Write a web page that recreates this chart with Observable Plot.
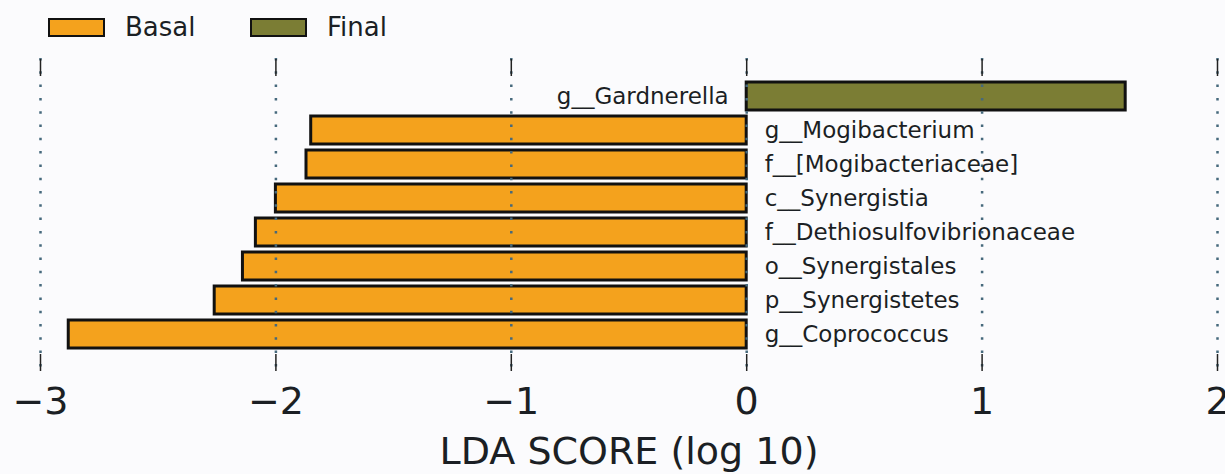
<!DOCTYPE html>
<html>
<head>
<meta charset="utf-8">
<script src="https://cdn.jsdelivr.net/npm/d3@7"></script>
<script src="https://cdn.jsdelivr.net/npm/@observablehq/plot@0.6"></script>
<style>
  html, body { margin: 0; padding: 0; background: #fbfbfd; overflow: hidden; }
  body { width: 1225px; height: 474px; font-family: "DejaVu Sans", sans-serif; }
  #legend { height: 50px; position: relative; }
  .item { position: absolute; top: 17px; display: flex; align-items: center; height: 20px; }
  .sw { width: 53px; height: 15px; border: 2.5px solid #111; }
  .lab { margin-left: 20px; font-size: 26px; color: #1b1f24; line-height: 20px; }
</style>
</head>
<body>
<div id="legend"></div>
<div id="chart"></div>
<script>
// ---- data ----
const taxa = [
  "g__Gardnerella",
  "g__Mogibacterium",
  "f__[Mogibacteriaceae]",
  "c__Synergistia",
  "f__Dethiosulfovibrionaceae",
  "o__Synergistales",
  "p__Synergistetes",
  "g__Coprococcus"
];
const ldaScores = [1.61, -1.85, -1.87, -2.00, -2.085, -2.14, -2.26, -2.88];
const taxonGroup = ["Final", "Basal", "Basal", "Basal", "Basal", "Basal", "Basal", "Basal"];
const groupNames = ["Basal", "Final"];
const groupColors = ["#F4A21D", "#7B7D34"];
const xTicks = [-3, -2, -1, 0, 1, 2];
const xLabel = "LDA SCORE (log 10)";

const rows = taxa.map((t, i) => ({taxon: t, lda: ldaScores[i], group: taxonGroup[i]}));

const plot = Plot.plot({
  width: 1225,
  height: 424,
  marginLeft: 40,
  marginRight: 8,
  marginTop: 8,
  marginBottom: 103,
  style: {fontFamily: "DejaVu Sans", background: "#fbfbfd", color: "#1b1f24", overflow: "visible"},
  x: {domain: [-3, 2], ticks: xTicks, tickFormat: d3.format("d")},
  y: {domain: taxa, paddingInner: 0.187, paddingOuter: 0.64, axis: null},
  color: {domain: groupNames, range: groupColors},
  marks: [
    Plot.barX(rows, {x: "lda", y: "taxon", fill: "group", stroke: "#111", strokeWidth: 3}),
    Plot.gridX(xTicks, {stroke: "#46697c", strokeOpacity: 1, strokeWidth: 2.5, strokeDasharray: "2.5,10.8"}),
    Plot.text(rows.filter(d => d.lda < 0), {x: () => 0, y: "taxon", text: "taxon", textAnchor: "start", dx: 18, fontSize: 23, fill: "#1b1f24"}),
    Plot.text(rows.filter(d => d.lda > 0), {x: () => 0, y: "taxon", text: "taxon", textAnchor: "end", dx: -18, fontSize: 23, fill: "#1b1f24"}),
    Plot.axisX(xTicks, {anchor: "top", tickSize: 17, dy: 17, fill: "none", label: null, stroke: "#222", strokeWidth: 1.5}),
    Plot.axisX(xTicks, {anchor: "bottom", tickSize: 17, dy: -17, fill: "none", label: null, stroke: "#222", strokeWidth: 1.5}),
    Plot.axisX(xTicks, {anchor: "bottom", tickSize: 0, tickPadding: 16, fontSize: 38, tickFormat: d3.format("d"), label: xLabel, labelAnchor: "center", labelOffset: 92, labelArrow: "none"})
  ]
});
document.getElementById("chart").appendChild(plot);

// legend from the plot's color scale
const color = plot.scale("color");
const legend = document.getElementById("legend");
const lefts = [48, 250];
color.domain.forEach((g, i) => {
  const item = document.createElement("div");
  item.className = "item";
  item.style.left = lefts[i] + "px";
  const sw = document.createElement("div");
  sw.className = "sw";
  sw.style.background = color.range[i];
  const lab = document.createElement("span");
  lab.className = "lab";
  lab.textContent = g;
  item.appendChild(sw);
  item.appendChild(lab);
  legend.appendChild(item);
});
</script>
</body>
</html>
